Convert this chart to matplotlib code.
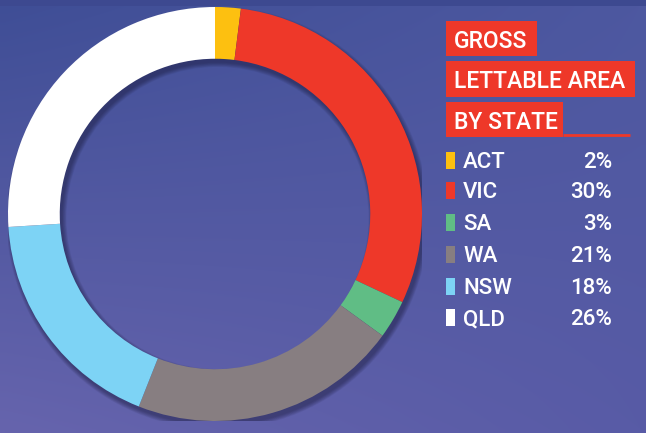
import numpy as np
import matplotlib.pyplot as plt
from matplotlib.patches import Wedge, Rectangle

states = ['ACT', 'VIC', 'SA', 'WA', 'NSW', 'QLD']
shares = [2, 30, 3, 21, 18, 26]
colors = ['#fdc010', '#ee3829', '#60bd85', '#877e81', '#7dd3f5', '#ffffff']
title_lines = ['GROSS', 'LETTABLE AREA', 'BY STATE']

W, H = 646, 433
fig = plt.figure(figsize=(W / 100, H / 100), dpi=100)

# background gradient
bg = fig.add_axes([0, 0, 1, 1])
tl = np.array([0x3f, 0x4e, 0x96]) / 255
tr = np.array([0x4d, 0x58, 0xa0]) / 255
bl = np.array([0x66, 0x64, 0xad]) / 255
br = np.array([0x58, 0x5b, 0xa6]) / 255
u = np.linspace(0, 1, 64)[None, :, None]
v = np.linspace(0, 1, 64)[:, None, None]
grad = (1 - v) * ((1 - u) * tl + u * tr) + v * ((1 - u) * bl + u * br)
bg.imshow(grad, extent=[0, W, 0, H], aspect='auto', interpolation='bilinear')
bg.add_patch(Rectangle((0, H - 6), W, 6, color='#3d4990', lw=0))
bg.set_xlim(0, W)
bg.set_ylim(0, H)
bg.axis('off')

# donut
cx, cy, r = 215, 214, 207
ax = fig.add_axes([(cx - r) / W, (H - cy - r) / H, 2 * r / W, 2 * r / H])
ax.set_xlim(-1, 1)
ax.set_ylim(-1, 1)
ax.set_aspect('equal')
ax.axis('off')

ring = 0.25
px = 1 / r
# soft shadow under the ring
for k in range(8):
    ax.add_patch(Wedge((2.5 * px, -4 * px), 1 + k * 0.6 * px, 0, 360,
                       width=ring + 2 * k * 0.6 * px,
                       facecolor='#1a1a3a', alpha=0.07, lw=0))

ax.pie(shares, colors=colors, startangle=90, counterclock=False, radius=1,
       wedgeprops=dict(width=ring, linewidth=0))
ax.set_xlim(-1, 1)
ax.set_ylim(-1, 1)

# title boxes
red = '#ee3829'
boxes = [(446, 21, 537, 56), (446, 61, 635, 97), (446, 102, 563, 137)]
for (x0, y0, x1, y1), line in zip(boxes, title_lines):
    bg.add_patch(Rectangle((x0, H - y1), x1 - x0, y1 - y0, color=red, lw=0))
    bg.text(x0 + 8, H - (y0 + y1) / 2 - 0.5, line, color='white', fontsize=16.5,
            family='Roboto', weight='medium', va='center_baseline', ha='left')
bg.plot([563, 630], [H - 135, H - 135], color=red, lw=2, solid_capstyle='butt')

# legend
row_y = [160, 190.5, 222.5, 254.5, 286, 317]
for name, val, c, y in zip(states, shares, colors, row_y):
    bg.add_patch(Rectangle((446, H - y - 8.5), 9, 17, color=c, lw=0))
    bg.text(463, H - y, name, color='white', fontsize=16, family='Roboto',
            weight='medium', va='center_baseline', ha='left')
    bg.text(612, H - y, f'{val}%', color='white', fontsize=16, family='Roboto',
            weight='medium', va='center_baseline', ha='right')

fig.savefig('out.png', dpi=100)
